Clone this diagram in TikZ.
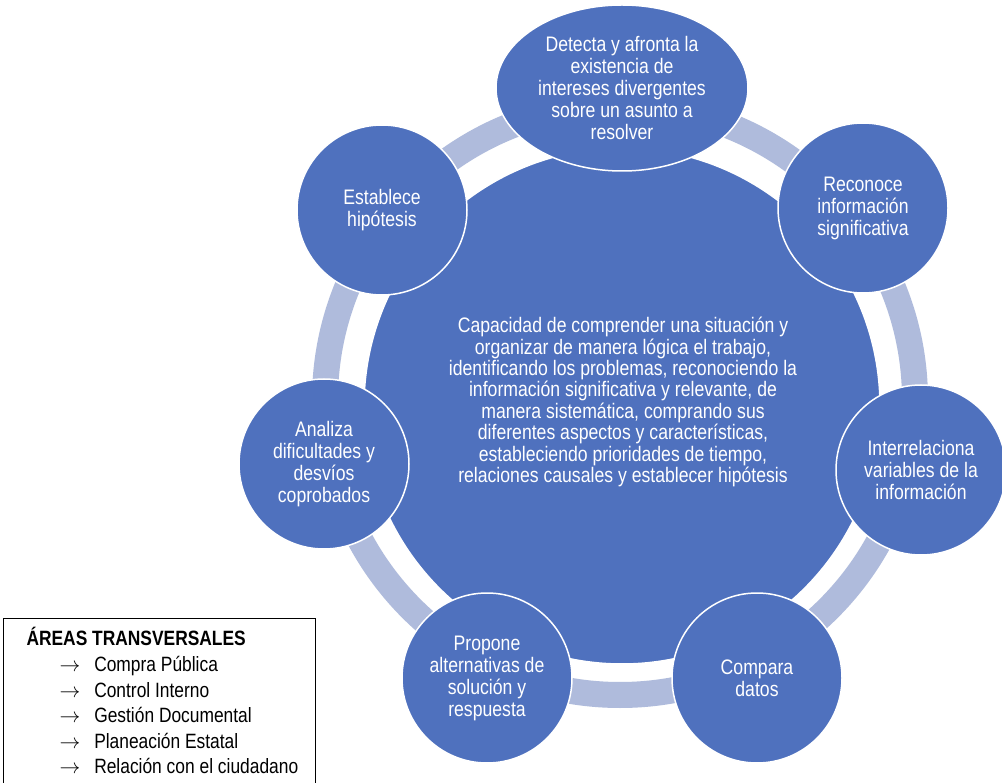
\documentclass[tikz,border=0pt]{standalone}
\usepackage{fontspec}
\setmainfont[FakeStretch=0.84]{Liberation Sans}
\usetikzlibrary{shapes.geometric}
\definecolor{mainblue}{HTML}{4F71BE}
\definecolor{ringblue}{HTML}{AFBBDC}
\begin{document}
\begin{tikzpicture}[x=1pt,y=-1pt,
  sat/.style={circle, fill=mainblue, draw=white, line width=1.5pt,
    minimum size=170pt, inner sep=0pt, text=white, align=center,
    font=\fontsize{21}{22}\selectfont},
  coretxt/.style={text=white, align=center, font=\fontsize{21}{21.4}\selectfont},
  legtxt/.style={anchor=base west, font=\fontsize{20.7}{22}\selectfont},
  ringline/.style={draw=ringblue, line width=26pt}]
\useasboundingbox (0,0) rectangle (1002,783);
\fill[white] (0,0) rectangle (1002,783);
% ring
\coordinate (rc) at (620,400);
\draw[ringline] (rc) circle[radius=295];
% central circle
\node[circle, fill=mainblue, draw=white, line width=1.5pt, minimum size=516pt, inner sep=0pt] (core) at (622,406) {};
\node[coretxt] (coretext) at (623,402) {Capacidad de comprender una situación y\\organizar de manera lógica el trabajo,\\identificando los problemas, reconociendo la\\información significativa y relevante, de\\manera sistemática, comprando sus\\diferentes aspectos y características,\\estableciendo prioridades de tiempo,\\relaciones causales y establecer hipótesis};
% satellites
\node[sat, ellipse, minimum width=252pt, minimum height=166pt] (detecta) at (622,88) {Detecta y afronta la\\existencia de\\intereses divergentes\\sobre un asunto a\\resolver};
\node[sat] (reconoce) at (863,208) {Reconoce\\información\\significativa};
\node[sat] (interrel) at (921,470) {Interrelaciona\\variables de la\\información};
\node[sat] (compara) at (757,678) {Compara\\datos};
\node[sat] (propone) at (487,678) {Propone\\alternativas de\\solución y\\respuesta};
\node[sat] (analiza) at (324,464) {Analiza\\dificultades y\\desvíos\\coprobados};
\node[sat] (establece) at (382,210) {Establece\\hipótesis};
% legend
\draw[black, line width=1pt] (3,800) -- (3,618) -- (315,618) -- (315,800);
\node[legtxt, font=\fontsize{20.7}{22}\selectfont\bfseries] (legtitle) at (23,645) {ÁREAS TRANSVERSALES};
\node[legtxt] (l1) at (56,671.5) {$\rightarrow$\hspace{14pt}Compra Pública};
\node[legtxt] (l2) at (56,697) {$\rightarrow$\hspace{14pt}Control Interno};
\node[legtxt] (l3) at (56,722.5) {$\rightarrow$\hspace{14pt}Gestión Documental};
\node[legtxt] (l4) at (56,748) {$\rightarrow$\hspace{14pt}Planeación Estatal};
\node[legtxt] (l5) at (56,773.5) {$\rightarrow$\hspace{14pt}Relación con el ciudadano};
\end{tikzpicture}
\end{document}
